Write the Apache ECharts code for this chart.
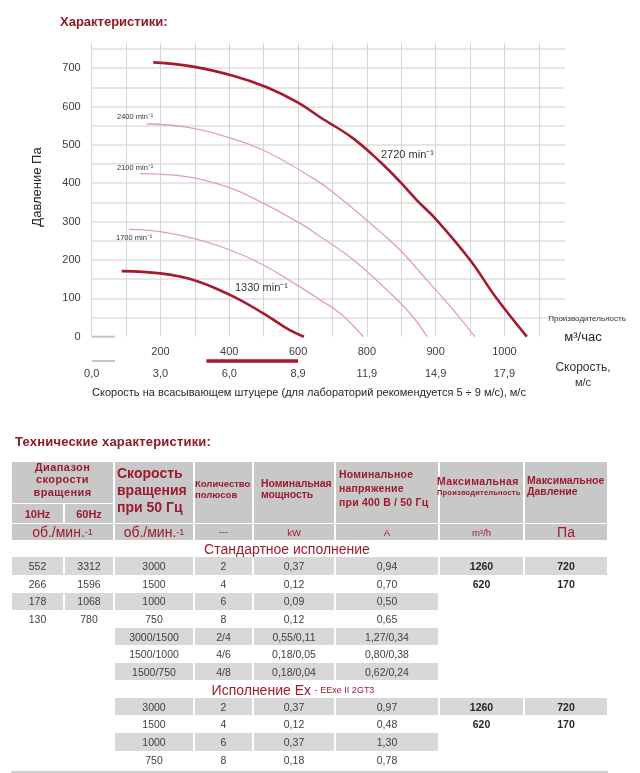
<!DOCTYPE html>
<html><head><meta charset="utf-8">
<script src="https://cdn.jsdelivr.net/npm/echarts@6/dist/echarts.min.js"></script>
<style>
body{margin:0;background:#fff;font-family:'Liberation Sans',Arial,sans-serif;}
#chart{position:absolute;left:0;top:0;width:640px;height:410px;}
#tbl{position:absolute;left:0;top:0;width:640px;height:773px;}
.bg{position:absolute;box-sizing:border-box;}
.t{position:absolute;white-space:nowrap;}
.cc{position:absolute;display:flex;align-items:center;justify-content:center;white-space:pre;}
</style></head>
<body>
<div id="chart"></div><div id="tbl"></div>
<script>
// ---------- chart data ----------
const curve2720 = [[179,715],[295,704],[411,680],[509,650],[600,610],[664,572],[760,517],[843,452],[896,404],[945,356],[1003,304],[1100,200],[1177,100],[1265,0]];
const curve2400 = [[160,555],[276,546],[392,521],[509,482],[664,401],[727,358],[799,304],[896,226],[983,139],[1051,70],[1114,0]];
const curve2100 = [[141,425],[276,417],[392,391],[470,361],[605,296],[664,261],[761,200],[858,122],[925,61],[976,0]];
const curve1700 = [[109,280],[199,274],[296,256],[402,226],[499,187],[596,135],[664,96],[722,61],[790,0]];
const curve1330 = [[87,171],[199,165],[296,148],[402,109],[499,61],[567,22],[617,0]];
const flowTickValues = [200,400,600,800,1000,1200];
const flowTickLabels = ['200','400','600','800','900','1000'];
const velTickValues = [0,3,6,9,12,15,18];
const velTickLabels = ['0,0','3,0','6,0','8,9','11,9','14,9','17,9'];
const recommendedRange = [5,9];
const pressureLabelStep = 100;

// ---------- table data ----------
const colEdges = [11,64,114,194,253,335,439,524,608];
const stdRows = [
  ['552','3312','3000','2','0,37','0,94','1260','720'],
  ['266','1596','1500','4','0,12','0,70','620','170'],
  ['178','1068','1000','6','0,09','0,50','',''],
  ['130','780','750','8','0,12','0,65','',''],
  ['','','3000/1500','2/4','0,55/0,11','1,27/0,34','',''],
  ['','','1500/1000','4/6','0,18/0,05','0,80/0,38','',''],
  ['','','1500/750','4/8','0,18/0,04','0,62/0,24','','']
];
const exRows = [
  ['','','3000','2','0,37','0,97','1260','720'],
  ['','','1500','4','0,12','0,48','620','170'],
  ['','','1000','6','0,37','1,30','',''],
  ['','','750','8','0,18','0,78','','']
];
const boldCols = [6,7];

const DARK='#a6192e', PINK='#e0a2aa', FONT="'Liberation Sans', Arial, sans-serif";
const chart = echarts.init(document.getElementById('chart'));
function curve(data, color, w){
  return {type:'line', data, smooth:0.4, symbol:'none', silent:true,
          lineStyle:{color, width:w}, xAxisIndex:0, yAxisIndex:0, z:3};
}
function lbl(x,y,text,size,extra){
  return Object.assign({type:'text', x, y, z:100, style:Object.assign({text, font:size+'px '+FONT, fill:'#333', textVerticalAlign:'middle'}, extra||{})});
}
chart.setOption({
  animation:false,
  textStyle:{fontFamily:FONT},
  grid:[{left:91.7, top:43.2, width:473.3, height:293.5},
        {left:91.7, top:355, width:473.3, height:6}],
  xAxis:[
    {type:'value', gridIndex:0, min:0, max:1376, interval:100,
     axisLine:{show:false}, axisTick:{show:false},
     splitLine:{show:true, showMaxLine:false, lineStyle:{color:'#d6d6d6', width:1}},
     axisLabel:{margin:10, color:'#404040', fontSize:11, fontFamily:FONT,
       formatter:v=>{const i=flowTickValues.indexOf(v);return i>=0?flowTickLabels[i]:'';}}},
    {type:'value', gridIndex:1, min:0, max:20.64, interval:3,
     axisLine:{show:false}, axisTick:{show:false}, splitLine:{show:false},
     axisLabel:{margin:7, color:'#404040', fontSize:11, fontFamily:FONT,
       formatter:v=>{const i=velTickValues.indexOf(v);return i>=0?velTickLabels[i]:'';}}}
  ],
  yAxis:[
    {type:'value', gridIndex:0, min:0, max:765, interval:50,
     axisLine:{show:false}, axisTick:{show:false},
     splitLine:{show:true, showMinLine:false, showMaxLine:false, lineStyle:{color:'#e6e6e6', width:2}},
     axisLabel:{margin:11, color:'#404040', fontSize:11, fontFamily:FONT,
       formatter:v=>(v%pressureLabelStep===0?String(v):'')}},
    {type:'value', gridIndex:1, min:0, max:1, show:false}
  ],
  series:[
    curve(curve1700, PINK, 1.3),
    curve(curve2100, PINK, 1.3),
    curve(curve2400, PINK, 1.3),
    curve(curve1330, DARK, 2.6),
    curve(curve2720, DARK, 2.6),
    {type:'line', xAxisIndex:0, yAxisIndex:0, data:[[0,0],[68,0]], symbol:'none', silent:true, clip:false,
     lineStyle:{color:'#c4c4c4', width:2}},
    {type:'line', xAxisIndex:1, yAxisIndex:1, data:[[0,0],[1.02,0]], symbol:'none', silent:true, clip:false,
     lineStyle:{color:'#c4c4c4', width:2}},
    {type:'line', xAxisIndex:1, yAxisIndex:1, data:[[recommendedRange[0],0],[recommendedRange[1],0]], symbol:'none', silent:true, clip:false,
     lineStyle:{color:DARK, width:3.5}}
  ],
  graphic:[
    {type:'text', left:60, top:16, z:100, style:{text:'Характеристики:', font:"bold 13px "+FONT, fill:'#8e1b23'}},
    {type:'text', x:37, y:187, z:100, rotation:Math.PI/2, style:{text:'Давление Па', font:"13px "+FONT, fill:'#262626', textAlign:'center', textVerticalAlign:'middle'}},
    lbl(381,155,'2720 min⁻¹',11),
    lbl(235,288,'1330 min⁻¹',11),
    lbl(117,117,'2400 min⁻¹',7.5),
    lbl(117,168,'2100 min⁻¹',7.5),
    lbl(116,238,'1700 min⁻¹',7.5),
    lbl(587,319,'Производительность',8,{textAlign:'center'}),
    lbl(583,337,'м³/час',13,{textAlign:'center', fill:'#262626'}),
    lbl(583,368,'Скорость,',12,{textAlign:'center'}),
    lbl(583,383,'м/с',11,{textAlign:'center'}),
    lbl(309,393,'Скорость на всасывающем штуцере (для лабораторий рекомендуется 5 ÷ 9 м/с), м/с',11,{textAlign:'center', fill:'#262626'})
  ]
});

// ---------- table ----------
const T = document.getElementById('tbl');
const RED='#9b1b2f', HEAD='#c8c8c8', ROW='#d8d8d8', TXT='#404040';
function el(cls, x, y, w, h, html, css){
  const d=document.createElement('div'); d.className=cls;
  d.style.left=x+'px'; d.style.top=y+'px';
  if(w!=null) d.style.width=w+'px'; if(h!=null) d.style.height=h+'px';
  if(html!=null) d.innerHTML=html; if(css) d.style.cssText+=css; T.appendChild(d); return d;
}
function bg(x0,x1,y0,y1,c){ el('bg', x0+1, y0, x1-x0-2, y1-y0-1, null, 'background:'+c); }

el('t',15,434,null,null,'Технические характеристики:','font:bold 13px '+FONT+';color:#8e1b23;letter-spacing:0.2px');
// header backgrounds
bg(colEdges[0],colEdges[2],462,503.5,HEAD);
bg(colEdges[0],colEdges[1],503.5,524,HEAD); bg(colEdges[1],colEdges[2],503.5,524,HEAD);
for(let c=2;c<8;c++) bg(colEdges[c],colEdges[c+1],462,524,HEAD);
bg(colEdges[0],colEdges[2],524,541,HEAD);
for(let c=2;c<8;c++) bg(colEdges[c],colEdges[c+1],524,541,HEAD);
// header texts
const hb='font-weight:bold;color:'+RED+';';
el('t',11,461,103,null,'Диапазон<br>скорости<br>вращения',hb+'font-size:11px;line-height:12.3px;text-align:center;letter-spacing:0.4px');
el('cc',11,504,53,19,'10Hz',hb+'font-size:11px');
el('cc',64,504,50,19,'60Hz',hb+'font-size:11px');
el('t',117,464.5,null,null,'Скорость<br>вращения<br>при 50 Гц',hb+'font-size:14px;line-height:17.2px');
el('t',195,477.5,null,null,'Количество<br>полюсов',hb+'font-size:9.5px;line-height:11.7px');
el('t',261,477.5,null,null,'Номинальная<br>мощность',hb+'font-size:10.5px;line-height:11.6px;letter-spacing:-0.1px');
el('t',339,468,null,null,'Номинальное<br>напряжение<br>при 400 В / 50 Гц',hb+'font-size:10.5px;line-height:13.8px;letter-spacing:0.2px');
el('t',437,474.5,null,null,'Максимальная',hb+'font-size:10.5px;line-height:13px;letter-spacing:0.4px');
el('t',437,488,null,null,'Производительность',hb+'font-size:7.5px;line-height:9px;letter-spacing:0.2px');
el('t',527,475,null,null,'Максимальное<br>Давление',hb+'font-size:10.5px;line-height:11.4px;letter-spacing:0px');
// units row
const un='color:'+RED+';';
el('cc',11,524,103,16,'об./мин.<sup style="font-size:9px">-1</sup>',un+'font-size:14px');
el('cc',114,524,80,16,'об./мин.<sup style="font-size:9px">-1</sup>',un+'font-size:14px');
el('cc',194,524,59,16,'---',un+'font-size:9px');
el('cc',253,524,82,16,'kW',un+'font-size:9.5px');
el('cc',335,524,104,16,'A',un+'font-size:9.5px');
el('cc',439,524,85,16,'m<sup style="font-size:6px">3</sup>/h',un+'font-size:9.5px');
el('cc',524,524,84,16,'Па',un+'font-size:14px');
// sections
el('cc',11,541,552,16,'Стандартное исполнение','color:#a01c2c;font-size:14px');
el('cc',11,681,564,17,'Исполнение Ex <span style="font-size:9px">- EExe II 2GT3</span>','color:#a01c2c;font-size:14px');
function rows(data, y0){
  const h=17.65;
  data.forEach((r,i)=>{
    const y=y0+i*h;
    r.forEach((v,c)=>{
      if(v==='') return;
      if(i%2===0) bg(colEdges[c],colEdges[c+1],y,y+h+0.6,ROW);
      const b = boldCols.indexOf(c)>=0;
      el('cc',colEdges[c],y,colEdges[c+1]-colEdges[c],h,v,'font-size:10.5px;color:'+(b?'#262626':TXT)+';'+(b?'font-weight:bold;':''));
    });
  });
}
rows(stdRows,557.3);
rows(exRows,698);
el('bg',11,771,597,2,null,'background:#cfcfcf');
</script>
</body></html>
